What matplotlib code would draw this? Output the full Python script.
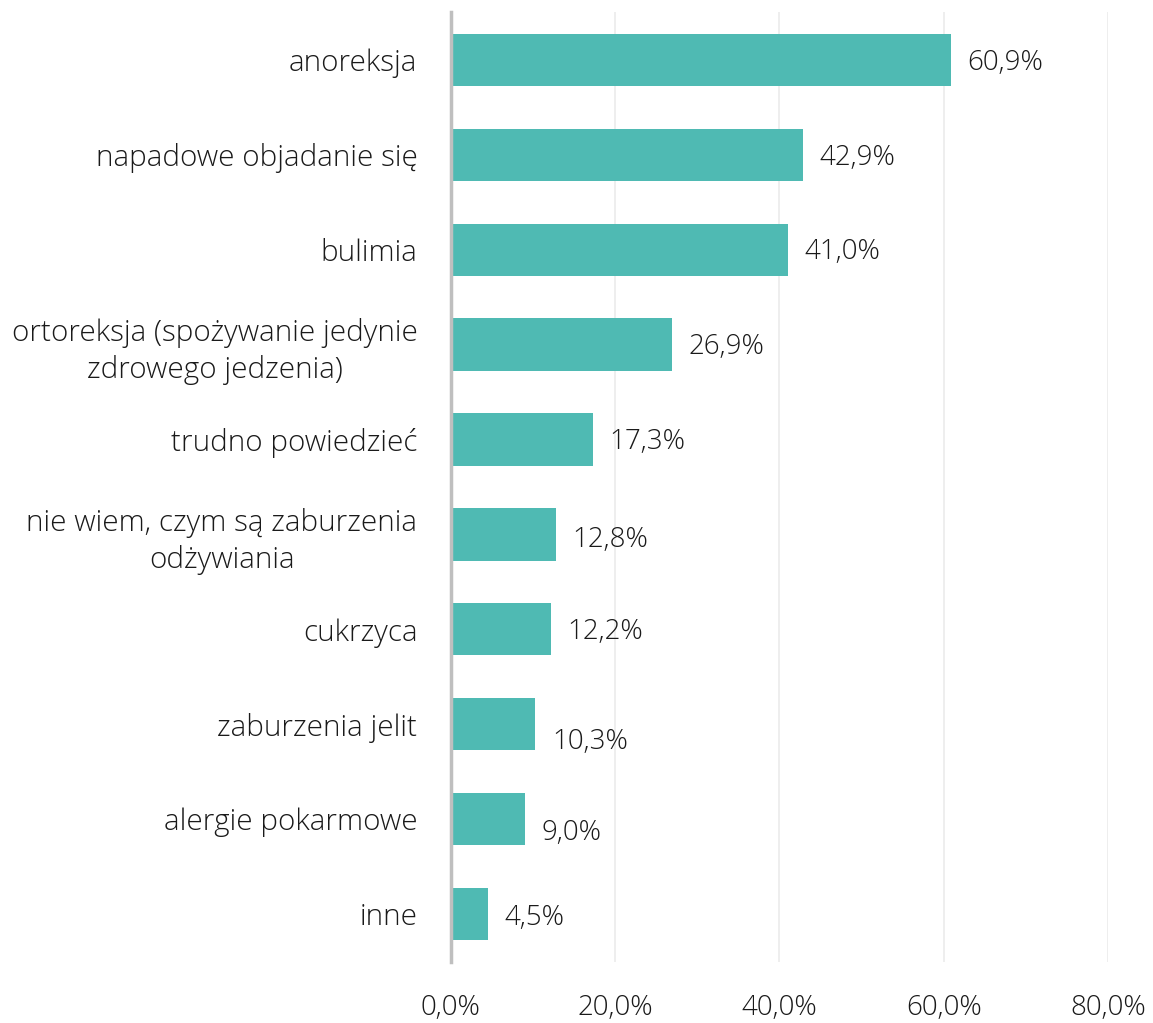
import matplotlib
matplotlib.use("Agg")
import matplotlib.pyplot as plt

# categories (top to bottom) and shares in %
categories = [
    "anoreksja",
    "napadowe objadanie się",
    "bulimia",
    "ortoreksja (spożywanie jedynie\nzdrowego jedzenia)",
    "trudno powiedzieć",
    "nie wiem, czym są zaburzenia\nodżywiania",
    "cukrzyca",
    "zaburzenia jelit",
    "alergie pokarmowe",
    "inne",
]
values = [60.9, 42.9, 41.0, 26.9, 17.3, 12.8, 12.2, 10.3, 9.0, 4.5]
x_ticks = [0, 20, 40, 60, 80]

bar_color = "#4FBAB3"
text_color = "#1A1A1A"
font = "Open Sans"
fs = 20

plt.rcParams["font.family"] = [font, "DejaVu Sans"]

fig = plt.figure(figsize=(11.53, 10.23), dpi=100)
ax = fig.add_axes([0.391, 0.06, 0.57, 0.928])

ypos = list(range(len(categories)))
ax.barh(ypos, values, height=0.55, color=bar_color, zorder=3)

ax.set_ylim(len(categories) - 0.5, -0.5)
ax.set_xlim(0, 80)

# data labels (Excel nudges a few of them down a bit)
label_dy = [0.03, 0.03, 0.03, 0.03, 0.03, 0.06, 0.03, 0.19, 0.14, 0.04]
for y, v, dy in zip(ypos, values, label_dy):
    ax.text(v + 2.0, y + dy, f"{v:.1f}%".replace(".", ","), va="center", ha="left",
            fontsize=fs, color=text_color, fontweight="light")

ax.set_yticks(ypos)
ax.set_yticklabels(categories, fontsize=21.3, color=text_color, fontweight="light",
                   ha="right", multialignment="center", linespacing=1.3)
ax.set_xticks(x_ticks)
ax.set_xticklabels([f"{t:.1f}%".replace(".", ",") for t in x_ticks], fontsize=fs,
                   color=text_color, fontweight="light")
ax.tick_params(axis="both", length=0)
ax.tick_params(axis="y", pad=24)
ax.tick_params(axis="x", pad=23)

ax.grid(axis="x", color="#EBEBEB", linewidth=1.2, zorder=0)
for s in ["top", "right", "bottom"]:
    ax.spines[s].set_visible(False)
ax.spines["left"].set_color("#BFBFBF")
ax.spines["left"].set_linewidth(2.5)
ax.spines["left"].set_zorder(4)

plt.savefig("out.png", dpi=100)
plt.close()
